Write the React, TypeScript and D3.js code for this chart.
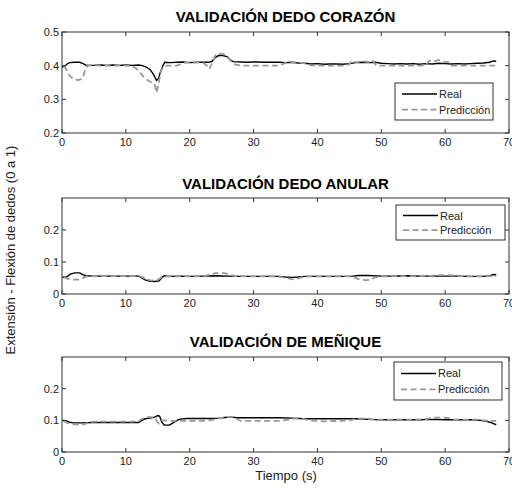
import React from "react";
import * as d3 from "d3";

type Pt = [number, number];

// tiempo (s), valor (0 a 1)
const corazonReal: Pt[] = [
  [0, 0.396], [0.4, 0.398], [0.8, 0.405], [1.2, 0.409], [2, 0.41], [2.8, 0.41], [3.3, 0.406], [3.8, 0.401],
  [5, 0.401], [6, 0.402], [7, 0.401], [8, 0.402], [9, 0.401], [10, 0.402], [11, 0.401], [12, 0.402],
  [12.6, 0.4], [13.2, 0.396], [13.8, 0.388], [14.3, 0.375], [14.8, 0.356], [15.1, 0.362], [15.4, 0.38],
  [15.8, 0.4], [16.1, 0.41], [17, 0.409], [18, 0.41], [19, 0.411], [20, 0.409], [21, 0.41], [22, 0.41],
  [23, 0.41], [23.5, 0.413], [24, 0.424], [24.5, 0.43], [25.2, 0.43], [25.8, 0.427], [26.3, 0.418],
  [26.8, 0.412], [28, 0.411], [29, 0.41], [30, 0.411], [32, 0.41], [34, 0.41], [35, 0.409], [36, 0.41],
  [37, 0.408], [38, 0.407], [39, 0.405], [40, 0.406], [41, 0.404], [42, 0.405], [43, 0.405], [44, 0.404],
  [45, 0.406], [46, 0.409], [47, 0.41], [48, 0.409], [49, 0.41], [50, 0.407], [51, 0.406], [52, 0.405],
  [53, 0.406], [54, 0.405], [55, 0.406], [56, 0.404], [57, 0.406], [58, 0.405], [59, 0.407], [60, 0.406],
  [61, 0.405], [62, 0.406], [63, 0.405], [64, 0.406], [65, 0.407], [66, 0.408], [67, 0.41], [67.5, 0.414],
  [68, 0.413],
];
const corazonPred: Pt[] = [
  [0.3, 0.4], [0.8, 0.385], [1.2, 0.37], [1.8, 0.36], [2.6, 0.357], [3.2, 0.362], [3.6, 0.385], [4, 0.4],
  [5, 0.401], [6, 0.4], [8, 0.4], [10, 0.4], [11, 0.399], [11.6, 0.392], [12.3, 0.378], [13, 0.362],
  [13.8, 0.352], [14.5, 0.346], [14.8, 0.32], [15.1, 0.345], [15.5, 0.385], [15.9, 0.398], [16.5, 0.4],
  [18, 0.4], [19, 0.408], [20, 0.41], [21, 0.409], [22, 0.41], [22.7, 0.4], [23.1, 0.39], [23.5, 0.408],
  [24, 0.43], [24.6, 0.436], [25.3, 0.434], [26, 0.425], [26.6, 0.41], [27.2, 0.403], [28, 0.4], [30, 0.4],
  [32, 0.4], [34, 0.4], [35, 0.408], [36, 0.41], [37, 0.41], [38, 0.407], [39, 0.401], [40, 0.4], [42, 0.4],
  [44, 0.4], [45, 0.404], [45.4, 0.415], [46, 0.41], [47, 0.413], [48, 0.411], [48.6, 0.416], [49.2, 0.401],
  [50, 0.4], [52, 0.4], [54, 0.4], [56, 0.4], [57, 0.402], [57.5, 0.415], [58.3, 0.413], [59, 0.417],
  [59.8, 0.412], [60.5, 0.41], [61, 0.4], [63, 0.4], [65, 0.4], [68, 0.4],
];

const anularReal: Pt[] = [
  [0, 0.052], [0.8, 0.054], [1.3, 0.062], [2, 0.066], [2.8, 0.066], [3.3, 0.06], [3.8, 0.057], [5, 0.056],
  [7, 0.056], [9, 0.056], [11, 0.056], [12, 0.056], [12.5, 0.05], [13, 0.044], [13.8, 0.04], [14.6, 0.039],
  [15.2, 0.041], [15.6, 0.05], [16, 0.057], [17, 0.055], [18, 0.056], [20, 0.055], [22, 0.056], [24, 0.057],
  [26, 0.056], [28, 0.055], [30, 0.055], [32, 0.055], [34, 0.055], [35, 0.053], [36, 0.052], [37, 0.053],
  [38, 0.055], [40, 0.055], [42, 0.055], [44, 0.055], [45.5, 0.056], [46.5, 0.058], [48, 0.058], [50, 0.056],
  [52, 0.056], [54, 0.057], [56, 0.056], [58, 0.056], [60, 0.056], [62, 0.056], [64, 0.055], [66, 0.055],
  [67, 0.057], [67.6, 0.061], [68, 0.06],
];
const anularPred: Pt[] = [
  [0.3, 0.052], [0.8, 0.048], [1.5, 0.045], [2.5, 0.045], [3.2, 0.049], [3.7, 0.054], [4.5, 0.056], [6, 0.056],
  [8, 0.056], [10, 0.056], [12, 0.056], [12.6, 0.053], [13.2, 0.046], [14, 0.042], [14.8, 0.043], [15.3, 0.048],
  [15.7, 0.055], [17, 0.055], [19, 0.055], [21, 0.055], [22.5, 0.057], [23.3, 0.062], [24, 0.065], [25, 0.066],
  [25.8, 0.064], [26.5, 0.059], [27.2, 0.056], [29, 0.055], [31, 0.055], [33, 0.055], [34.5, 0.053],
  [35.3, 0.049], [36.2, 0.046], [37, 0.049], [37.8, 0.054], [39, 0.055], [41, 0.055], [43, 0.055], [45, 0.055],
  [45.8, 0.051], [46.6, 0.046], [47.5, 0.043], [48.3, 0.045], [49, 0.052], [50, 0.055], [52, 0.056], [54, 0.056],
  [56, 0.056], [58, 0.057], [59, 0.059], [60.5, 0.059], [62, 0.057], [63, 0.055], [65, 0.055], [68, 0.056],
];

const meniqueReal: Pt[] = [
  [0, 0.1], [0.7, 0.098], [1.2, 0.094], [1.8, 0.092], [3, 0.092], [5, 0.093], [7, 0.093], [9, 0.093],
  [11, 0.093], [12, 0.093], [12.5, 0.1], [13, 0.105], [13.8, 0.107], [14.5, 0.11], [15, 0.115], [15.3, 0.113],
  [15.6, 0.096], [16, 0.085], [16.8, 0.085], [17.4, 0.092], [18, 0.1], [18.5, 0.104], [19.5, 0.106], [21, 0.106],
  [23, 0.106], [24.5, 0.107], [25.5, 0.109], [26.5, 0.11], [27.5, 0.108], [30, 0.108], [32, 0.108], [34, 0.108],
  [36, 0.107], [38, 0.105], [40, 0.105], [42, 0.105], [44, 0.105], [46, 0.105], [48, 0.103], [50, 0.102],
  [52, 0.102], [54, 0.102], [56, 0.102], [58, 0.103], [60, 0.102], [62, 0.102], [64, 0.102], [65.5, 0.1],
  [66.5, 0.097], [67.3, 0.092], [68, 0.086],
];
const meniquePred: Pt[] = [
  [0.3, 0.098], [0.8, 0.092], [1.5, 0.088], [2.3, 0.087], [3, 0.085], [3.6, 0.089], [4.2, 0.093], [5, 0.096],
  [7, 0.096], [9, 0.096], [11, 0.096], [12, 0.097], [12.5, 0.104], [13.2, 0.11], [14, 0.11], [14.6, 0.109],
  [14.9, 0.095], [15.2, 0.09], [15.6, 0.1], [16.3, 0.099], [18, 0.098], [20, 0.098], [22, 0.098], [23.5, 0.101],
  [24.3, 0.106], [25, 0.108], [26, 0.11], [26.8, 0.111], [27.4, 0.104], [28, 0.098], [30, 0.098], [32, 0.098],
  [34, 0.098], [35.5, 0.102], [36.5, 0.106], [38, 0.104], [39, 0.099], [41, 0.097], [43, 0.098], [45, 0.1],
  [46, 0.104], [47, 0.106], [48, 0.105], [49, 0.102], [51, 0.102], [53, 0.102], [55, 0.102], [57, 0.104],
  [58, 0.108], [59.5, 0.109], [60.5, 0.107], [61.3, 0.103], [63, 0.102], [65, 0.102], [66, 0.1], [67, 0.098],
  [68, 0.098],
];

const xTicks = [0, 10, 20, 30, 40, 50, 60, 70];
const yTicksCorazon = [0.2, 0.3, 0.4, 0.5];
const yTicksBajo = [0, 0.1, 0.2];
const legendLabels = ["Real", "Predicción"];

const FONT = "Arial, 'Liberation Sans', Helvetica, sans-serif";
const AXIS = "#333";
const GRAY = "#999";

const panels = [
  {
    title: "VALIDACIÓN DEDO CORAZÓN", real: corazonReal, pred: corazonPred,
    yDomain: [0.2, 0.5], yTicks: yTicksCorazon, top: 32, bottom: 133, titleY: 22,
    legend: { x: 395, y: 83, w: 98, h: 37 },
  },
  {
    title: "VALIDACIÓN DEDO ANULAR", real: anularReal, pred: anularPred,
    yDomain: [0, 0.3], yTicks: yTicksBajo, top: 198, bottom: 294, titleY: 189,
    legend: { x: 396, y: 205, w: 109, h: 35 },
  },
  {
    title: "VALIDACIÓN DE MEÑIQUE", real: meniqueReal, pred: meniquePred,
    yDomain: [0, 0.3], yTicks: yTicksBajo, top: 357, bottom: 452, titleY: 347,
    legend: { x: 394, y: 362, w: 108, h: 38 },
  },
];

const left = 62;
const right = 509;

function Panel({ p }: { p: (typeof panels)[number] }) {
  const x = d3.scaleLinear().domain([0, 70]).range([left, right]);
  const y = d3.scaleLinear().domain(p.yDomain).range([p.bottom, p.top]);
  const line = d3
    .line<Pt>()
    .x((d) => x(d[0]))
    .y((d) => y(d[1]));
  const tl = 4;
  const lg = p.legend;
  return (
    <g>
      <text x={(left + right) / 2} y={p.titleY} textAnchor="middle" fontSize={15} fontWeight="bold" fill="#000">
        {p.title}
      </text>
      <rect x={left} y={p.top} width={right - left} height={p.bottom - p.top} fill="#fff" />
      <path d={line(p.real) || ""} fill="none" stroke="#000" strokeWidth={1.4} />
      <path d={line(p.pred) || ""} fill="none" stroke={GRAY} strokeWidth={1.8} strokeDasharray="6,3.5" />
      <rect x={left} y={p.top} width={right - left} height={p.bottom - p.top} fill="none" stroke={AXIS} strokeWidth={1} />
      {xTicks.map((t) => (
        <g key={"x" + t}>
          <line x1={x(t)} x2={x(t)} y1={p.bottom} y2={p.bottom - tl} stroke={AXIS} />
          <line x1={x(t)} x2={x(t)} y1={p.top} y2={p.top + tl} stroke={AXIS} />
          <text x={x(t)} y={p.bottom + 13} textAnchor="middle" fontSize={11} fill="#222">
            {t}
          </text>
        </g>
      ))}
      {p.yTicks.map((t) => (
        <g key={"y" + t}>
          <line x1={left} x2={left + tl} y1={y(t)} y2={y(t)} stroke={AXIS} />
          <line x1={right} x2={right - tl} y1={y(t)} y2={y(t)} stroke={AXIS} />
          <text x={left - 3} y={y(t) + 4} textAnchor="end" fontSize={11} fill="#222">
            {d3.format("~g")(t)}
          </text>
        </g>
      ))}
      <rect x={lg.x} y={lg.y} width={lg.w} height={lg.h} fill="#fff" stroke={AXIS} />
      <line x1={lg.x + 7} x2={lg.x + 42} y1={lg.y + lg.h * 0.3} y2={lg.y + lg.h * 0.3} stroke="#000" strokeWidth={1.5} />
      <text x={lg.x + 44} y={lg.y + lg.h * 0.3 + 4} fontSize={11} fill="#222">
        {legendLabels[0]}
      </text>
      <line x1={lg.x + 7} x2={lg.x + 42} y1={lg.y + lg.h * 0.72} y2={lg.y + lg.h * 0.72} stroke={GRAY} strokeWidth={1.8} strokeDasharray="6,3.5" />
      <text x={lg.x + 44} y={lg.y + lg.h * 0.72 + 4} fontSize={11} fill="#222">
        {legendLabels[1]}
      </text>
    </g>
  );
}

export default function App() {
  return (
    <div>
      <style>{"body{margin:0}"}</style>
      <svg width={512} height={488} style={{ display: "block", fontFamily: FONT, background: "#fff" }}>
        {panels.map((p) => (
          <Panel key={p.title} p={p} />
        ))}
        <text
          transform="translate(15,250) rotate(-90)"
          textAnchor="middle"
          fontSize={13}
          fill="#222"
        >
          Extensión - Flexión de dedos (0 a 1)
        </text>
        <text x={286} y={480} textAnchor="middle" fontSize={13} fill="#222">
          Tiempo (s)
        </text>
      </svg>
    </div>
  );
}
